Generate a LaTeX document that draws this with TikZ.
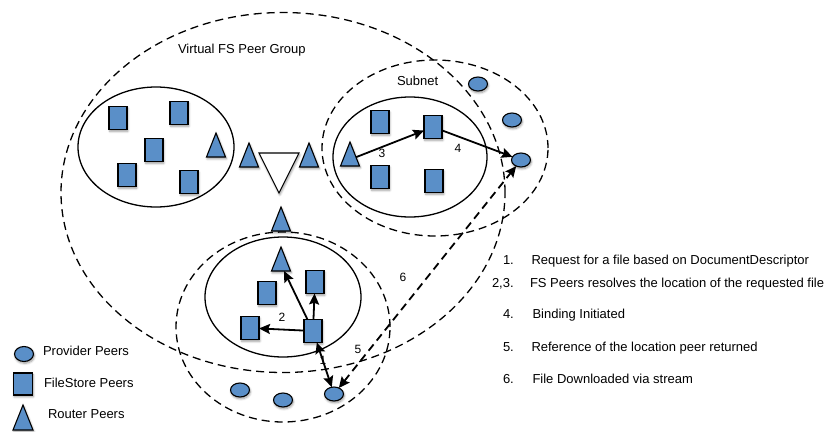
\documentclass[tikz,border=0pt]{standalone}
\usepackage{fontspec}
\setmainfont{Liberation Sans}
\usetikzlibrary{shapes.geometric,arrows.meta,shadows.blur}
\definecolor{peerblue}{RGB}{90,143,200}
\begin{document}
\begin{tikzpicture}[x=1pt,y=-1pt,
  every node/.style={inner sep=0pt, outer sep=0pt},
  peershadow/.style={blur shadow={shadow xshift=0.8pt, shadow yshift=-1.8pt,
      shadow blur steps=6, shadow blur radius=2.2pt, shadow opacity=40}},
  filestore/.style={rectangle, draw, line width=1.1pt, fill=peerblue,
      minimum width=18pt, minimum height=23pt, peershadow},
  provider/.style={ellipse, draw, line width=1.1pt, fill=peerblue,
      minimum width=19pt, minimum height=14pt, peershadow},
  router/.style={isosceles triangle, isosceles triangle stretches,
      shape border rotate=90, draw, line width=1.1pt, fill=peerblue,
      minimum width=19pt, minimum height=24pt, anchor=apex, peershadow},
  hubtri/.style={isosceles triangle, isosceles triangle stretches,
      shape border rotate=-90, draw, line width=1.1pt, fill=white,
      minimum width=40pt, minimum height=40pt, anchor=apex, peershadow},
  cluster/.style={ellipse, draw, line width=1.3pt},
  region/.style={ellipse, draw, line width=1.3pt, dash pattern=on 8pt off 5pt},
  tip/.tip={Stealth[length=11pt,width=10pt,inset=1.8pt]},
  link/.style={line width=1.8pt, -tip},
  dlink/.style={line width=1.8pt, tip-tip},
  lbl/.style={font=\fontsize{13pt}{15pt}\selectfont, anchor=base west},
  num/.style={font=\fontsize{12pt}{14pt}\selectfont},
]
\useasboundingbox (0,0) rectangle (834,431);

% dashed regions: peer group and the two subnets
\node[region, minimum width=444pt, minimum height=360pt] (grp) at (283,192.5) {};
\node[region, minimum width=226pt, minimum height=176pt] (snR) at (435,148) {};
\node[region, minimum width=214pt, minimum height=190pt] (snB) at (283,327) {};

% solid clusters
\node[cluster, minimum width=156pt, minimum height=120pt] (cl) at (156,147) {};
\node[cluster, minimum width=154pt, minimum height=120pt] (cr) at (410,157) {};
\node[cluster, minimum width=156pt, minimum height=120pt] (cb) at (283,297) {};

% upper-left cluster peers
\node[filestore] (lA) at (118,118) {};
\node[filestore] (lB) at (179,113) {};
\node[filestore] (lC) at (154,150) {};
\node[filestore] (lD) at (127,175) {};
\node[filestore] (lE) at (189,182) {};
\node[router]    (lT) at (216,133) {};

% routers around the central hub
\node[router] (mL) at (249,143) {};
\node[hubtri] (hub) at (279,193) {};
\node[router] (mR) at (309,143) {};
\node[router] (mB) at (281,207) {};

% upper-right cluster peers
\node[router]    (rT) at (350,142) {};
\node[filestore] (rA) at (380,122) {};
\node[filestore] (rB) at (433,127) {};
\node[filestore] (rC) at (380,177) {};
\node[filestore] (rD) at (434,181) {};
\node[provider]  (pA) at (478,84) {};
\node[provider]  (pB) at (512,120) {};
\node[provider]  (pR) at (521,160) {};

% lower cluster peers
\node[router]    (bT) at (281,247) {};
\node[filestore] (bA) at (315,282) {};
\node[filestore] (bB) at (267,293) {};
\node[filestore] (bC) at (250,328) {};
\node[filestore] (bD) at (313,331) {};
\node[provider]  (qA) at (240,390) {};
\node[provider]  (qB) at (283,400) {};
\node[provider]  (qC) at (334,394) {};

% message flow
\draw[link] (rT) -- (rB);
\draw[link] (rB) -- (pR);
\draw[link] (bD) -- (bT);
\draw[link] (bD) -- (bA);
\draw[link] (bD) -- (bC);
\draw[dlink] (bD) -- (qC);
\draw[dlink, dash pattern=on 8pt off 5pt] (qC) -- (pR);

\node[num] (n3) at (382,153) {3};
\node[num] (n4) at (458,148) {4};
\node[num] (n2) at (282,317) {2};
\node[num] (n1) at (323,360) {1};
\node[num] (n5) at (358,349) {5};
\node[num] (n6) at (403,277) {6};

% titles
\node[lbl] (tGrp) at (178,53.3) {Virtual FS Peer Group};
\node[lbl] (tNet) at (397,85.7) {Subnet};

% legend
\node[provider, minimum width=19pt, minimum height=15pt] (kP) at (24,354) {};
\node[filestore, minimum width=19pt, minimum height=22pt] (kF) at (23,384) {};
\node[router, minimum width=20pt, minimum height=25pt] (kR) at (23,405) {};
\node[lbl] (kPt) at (43,355) {Provider Peers};
\node[lbl] (kFt) at (44,387.3) {FileStore Peers};
\node[lbl] (kRt) at (48,418.3) {Router Peers};

% steps
\node[lbl] (s1n) at (503,264) {1.};
\node[lbl] (s1)  at (531.5,264) {Request for a file based on DocumentDescriptor};
\node[lbl] (s2n) at (492,287.7) {2,3.};
\node[lbl] (s2)  at (530,287.7) {FS Peers resolves the location of the requested file};
\node[lbl] (s4n) at (503,318.3) {4.};
\node[lbl] (s4)  at (532.5,318.3) {Binding Initiated};
\node[lbl] (s5n) at (503,351.7) {5.};
\node[lbl] (s5)  at (531.5,351.7) {Reference of the location peer returned};
\node[lbl] (s6n) at (503,383.3) {6.};
\node[lbl] (s6)  at (532.5,383.3) {File Downloaded via stream};
\end{tikzpicture}
\end{document}
